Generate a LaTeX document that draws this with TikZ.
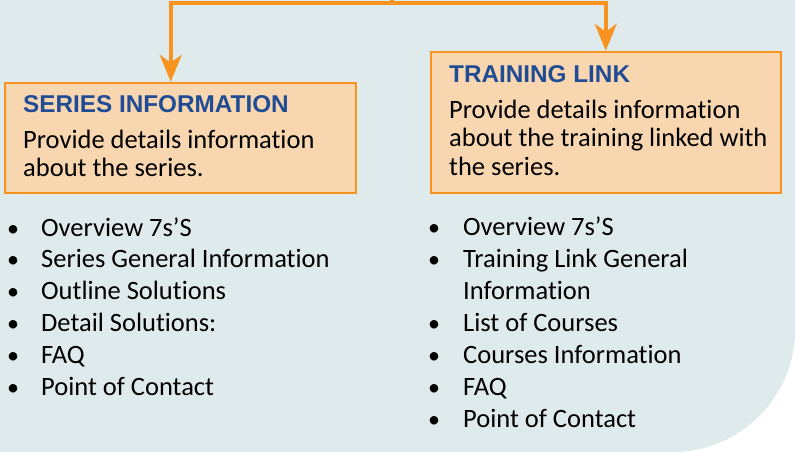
\documentclass[tikz,border=0pt]{standalone}
\usepackage{fontspec}
\setmainfont{Carlito}[Ligatures=NoCommon]
\newfontfamily\titlefont{Liberation Sans}
\usetikzlibrary{arrows.meta}
\definecolor{bgc}{HTML}{DFEAED}
\definecolor{boxfill}{HTML}{F8D7B0}
\definecolor{boxline}{HTML}{F7931E}
\definecolor{titleblue}{HTML}{1F4C94}
\tikzset{
  box/.style={draw=boxline, fill=boxfill, line width=2.5pt, inner sep=0pt},
  ttl/.style={anchor=base west, inner sep=0pt, text=titleblue, font=\titlefont\bfseries\fontsize{24.3}{28}\selectfont},
  body/.style={anchor=base west, inner sep=0pt, text=black, font=\fontsize{26.5}{28}\selectfont},
  item/.style={anchor=base west, inner sep=0pt, text=black, font=\fontsize{26.5}{28}\selectfont},
  bul/.style={anchor=base, inner sep=0pt, text=black, font=\fontsize{24}{28}\selectfont},
  arr/.style={draw=boxline, line width=3.5pt, -{Stealth[length=27pt,width=22pt,inset=8pt]}}
}
\begin{document}
\begin{tikzpicture}[x=1pt,y=-1pt]
\useasboundingbox (0,0) rectangle (795,451);
% background with rounded lower-right corner
\fill[bgc] (0,0) -- (795,0) -- (795,330) .. controls (795,397) and (740,452) .. (673,452) -- (0,452) -- cycle;
% boxes
\node[box, minimum width=351pt, minimum height=110pt] (sbox) at (180.5,138) {};
\node[box, minimum width=350pt, minimum height=141pt] (tbox) at (606,122.5) {};
% connector
\coordinate (jin) at (392,0);
\coordinate (jn) at (392,3);
\draw[draw=boxline, line width=3.5pt] (jin) -- (jn);
\draw[arr] (jn) -| ([xshift=167pt]sbox.north west);
\draw[arr] (jn) -| ([xshift=176pt]tbox.north west);
% left box text
\node[ttl] (stitle) at (23,112) {SERIES INFORMATION};
\node[body] (sbody1) at (23,148) {Provide details information};
\node[body] (sbody2) at (23,176.5) {about the series.};
% right box text
\node[ttl] (ttitle) at (449,82) {TRAINING LINK};
\node[body] (tbody1) at (449,118) {Provide details information};
\node[body] (tbody2) at (449,146.5) {about the training linked with};
\node[body] (tbody3) at (449,175) {the series.};
% left list
\foreach \t [count=\i] in {Overview 7s’S, Series General Information, Outline Solutions, Detail Solutions:, FAQ, Point of Contact}{
  \node[bul] (lb\i) at (13,{236+31.8*(\i-1)}) {•};
  \node[item] (li\i) at (41,{236+31.8*(\i-1)}) {\t};
}
% right list
\node[bul] (rb1) at (434,235) {•};
\node[item] (ri1) at (463,235) {Overview 7s’S};
\node[bul] (rb2) at (434,267) {•};
\node[item] (ri2) at (463,267) {Training Link General};
\node[item] (ri2b) at (463,299) {Information};
\node[bul] (rb3) at (434,331) {•};
\node[item] (ri3) at (463,331) {List of Courses};
\node[bul] (rb4) at (434,363) {•};
\node[item] (ri4) at (463,363) {Courses Information};
\node[bul] (rb5) at (434,395) {•};
\node[item] (ri5) at (463,395) {FAQ};
\node[bul] (rb6) at (434,427) {•};
\node[item] (ri6) at (463,427) {Point of Contact};
\end{tikzpicture}
\end{document}
